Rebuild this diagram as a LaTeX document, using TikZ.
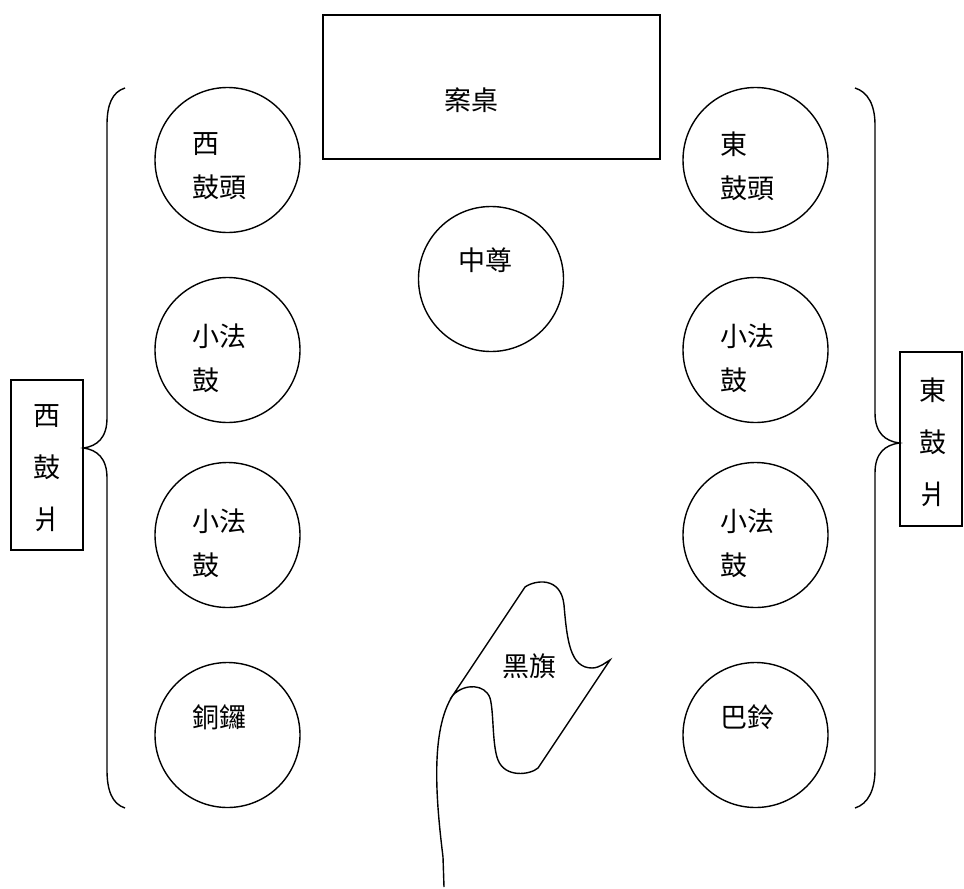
\documentclass[tikz,border=0pt]{standalone}
\usepackage{fontspec}
\setmainfont{Noto Sans CJK TC}
\begin{document}
\begin{tikzpicture}[x=1pt,y=-1pt,
  line width=1.4pt,
  drum/.style={draw,circle,minimum size=145pt,inner sep=0pt},
  lbl/.style={font=\fontsize{27}{44}\selectfont,inner sep=0pt,align=left,anchor=west},
  vlbl/.style={font=\fontsize{27}{52}\selectfont,inner sep=0pt,align=center},
  box/.style={draw,inner sep=0pt}]
\useasboundingbox (0,0) rectangle (964,889);
% table
\node[box,minimum width=337pt,minimum height=144pt] (table) at (491.5,87) {};
\node[lbl,anchor=center] (tablet) at (471,100) {案桌};
% drums
\node[drum] (w1) at (227.5,160) {};
\node[drum] (w2) at (227.5,350) {};
\node[drum] (w3) at (227.5,535) {};
\node[drum] (w4) at (227.5,735) {};
\node[drum] (e1) at (755.5,160) {};
\node[drum] (e2) at (755.5,350) {};
\node[drum] (e3) at (755.5,535) {};
\node[drum] (e4) at (755.5,735) {};
\node[drum] (c) at (491,279) {};
\node[lbl] (w1t) at (192,166) {西\\鼓頭};
\node[lbl] (w2t) at (192,358) {小法\\鼓};
\node[lbl] (w3t) at (192,543) {小法\\鼓};
\node[lbl] (w4t) at (192,717) {銅鑼};
\node[lbl] (e1t) at (720,166) {東\\鼓頭};
\node[lbl] (e2t) at (720,358) {小法\\鼓};
\node[lbl] (e3t) at (720,543) {小法\\鼓};
\node[lbl] (e4t) at (720,717) {巴鈴};
\node[lbl] (ct) at (458,260) {中尊};
% side boxes
\node[box,minimum width=72pt,minimum height=170pt] (wb) at (47,465) {};
\node[vlbl] (wbt) at (47,468) {西\\鼓\\爿};
\node[box,minimum width=62pt,minimum height=174pt] (eb) at (931,439) {};
\node[vlbl] (ebt) at (933,442) {東\\鼓\\爿};
% braces
\coordinate (wtop) at (125,88);
\coordinate (wbot) at (125,808);
\draw (wtop) .. controls (112,92) and (107,105) .. (107,125)
  -- (107,418) .. controls (107,438) and (97,446) .. (wb.east |- 0,448)
  .. controls (97,450) and (107,458) .. (107,478)
  -- (107,770) .. controls (107,790) and (112,804) .. (wbot);
\coordinate (etop) at (855,88);
\coordinate (ebot) at (855,808);
\draw (etop) .. controls (868,92) and (875,105) .. (875,125)
  -- (875,413) .. controls (875,433) and (885,441) .. (eb.west |- 0,443)
  .. controls (885,445) and (875,453) .. (875,473)
  -- (875,770) .. controls (875,790) and (868,804) .. (ebot);
% flag
\coordinate (pb) at (444,887);
\coordinate (pk) at (443,857);
\coordinate (ft) at (453,695);
\draw (pb) -- (pk) .. controls (436,800) and (430,730) .. (ft);
\draw (ft) -- (525,587) .. controls (535,580) and (561,576) .. (564,605)
  .. controls (567,640) and (570,668) .. (592,668)
  .. controls (600,668) and (606,662) .. (610,660)
  -- (538,768) .. controls (530,775) and (505,778) .. (498,760)
  .. controls (492,745) and (494,712) .. (490,698)
  .. controls (485,684) and (465,683) .. (ft) -- cycle;
\node[lbl,anchor=center] (flagt) at (529,666) {黑旗};
\end{tikzpicture}
\end{document}
